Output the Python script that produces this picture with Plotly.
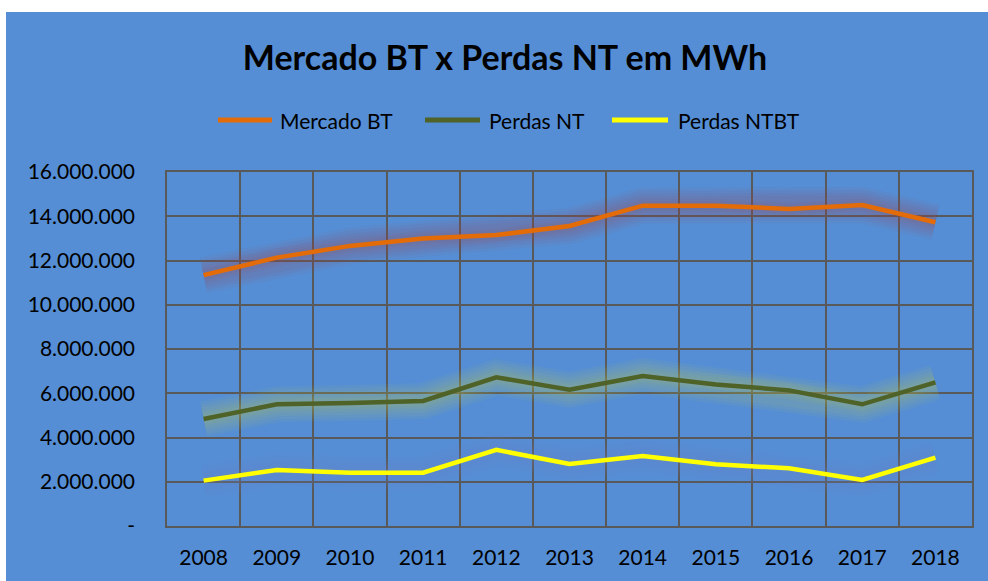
import plotly.graph_objects as go

years = ["2008", "2009", "2010", "2011", "2012", "2013", "2014", "2015", "2016", "2017", "2018"]
mercado_bt = [11340000, 12130000, 12660000, 12990000, 13150000, 13560000, 14480000, 14480000, 14330000, 14510000, 13730000]
perdas_nt = [4840000, 5500000, 5560000, 5650000, 6720000, 6160000, 6780000, 6400000, 6130000, 5500000, 6490000]
perdas_ntbt = [2050000, 2530000, 2410000, 2410000, 3440000, 2800000, 3160000, 2790000, 2610000, 2080000, 3090000]
y_ticks = [0, 2000000, 4000000, 6000000, 8000000, 10000000, 12000000, 14000000, 16000000]

series = [
    ("Mercado BT", mercado_bt, "#E36C09", "rgba(160,75,80,0.07)"),
    ("Perdas NT", perdas_nt, "#4F6228", "rgba(190,200,80,0.07)"),
    ("Perdas NTBT", perdas_ntbt, "#FFFF00", "rgba(110,140,190,0.05)"),
]

def fmt(v):
    if v == 0:
        return "-"
    return f"{v:,}".replace(",", ".")

BG = "#558ED5"
GRID = "#595959"
FONT = "Lato"

fig = go.Figure()
# soft glow layers
for name, vals, col, glow in series:
    for w in (36, 30, 24, 18, 13, 9):
        fig.add_trace(go.Scatter(x=years, y=vals, mode="lines", showlegend=False, hoverinfo="skip",
                                 line=dict(color=glow, width=w)))
for name, vals, col, glow in series:
    fig.add_trace(go.Scatter(x=years, y=vals, mode="lines", name=name, showlegend=False,
                             line=dict(color=col, width=4.5)))

L, R, T, B = 167, 16, 172, 55
W, H = 988, 581
pw, ph = W - L - R, H - T - B

def px(x):
    return (x - L) / pw

def py(y):
    return (H - B - y) / ph

shapes = [
    dict(type="rect", xref="paper", yref="paper", x0=px(6), x1=px(W + 5), y0=py(H + 5), y1=py(12),
         fillcolor=BG, line=dict(width=0), layer="below"),
]
annotations = []
leg = [(218, 272, 278), (425, 480, 487), (612, 668, 676)]
for (x0, x1, xt), (name, vals, col, glow) in zip(leg, series):
    shapes.append(dict(type="line", xref="paper", yref="paper", x0=px(x0), x1=px(x1), y0=py(120), y1=py(120),
                       line=dict(color=col, width=5)))
    annotations.append(dict(xref="paper", yref="paper", x=px(xt), y=py(121), xanchor="left", yanchor="middle",
                            text=name, showarrow=False, font=dict(family=FONT, size=21, color="black")))

fig.update_layout(
    width=W, height=H,
    margin=dict(l=L, r=R, t=T, b=B),
    paper_bgcolor="white",
    plot_bgcolor=BG,
    title=dict(text="<b>Mercado BT x Perdas NT em MWh</b>", x=505 / W, xanchor="center",
               y=1 - 58 / H, yanchor="middle", yref="container",
               font=dict(family=FONT, size=34, color="black")),
    shapes=shapes,
    annotations=annotations,
    showlegend=False,
    font=dict(family=FONT, color="black"),
)
fig.update_xaxes(type="category", range=[-0.5, len(years) - 0.5], tickson="boundaries",
                 showgrid=True, gridcolor=GRID, gridwidth=1.5,
                 showline=True, linecolor=GRID, linewidth=1.5, mirror=True, ticks="",
                 tickfont=dict(family=FONT, size=21, color="black"), ticklabelstandoff=12)
fig.update_yaxes(range=[0, 16000000], tickmode="array", tickvals=y_ticks, ticktext=[fmt(v) for v in y_ticks],
                 showgrid=True, gridcolor=GRID, gridwidth=1.5, zeroline=False,
                 showline=True, linecolor=GRID, linewidth=1.5, mirror=True, ticks="",
                 tickfont=dict(family=FONT, size=21, color="black"), ticklabelstandoff=26)

fig.write_html("out.html", config={"displayModeBar": False},
               post_script="document.body.style.margin='0px';")
